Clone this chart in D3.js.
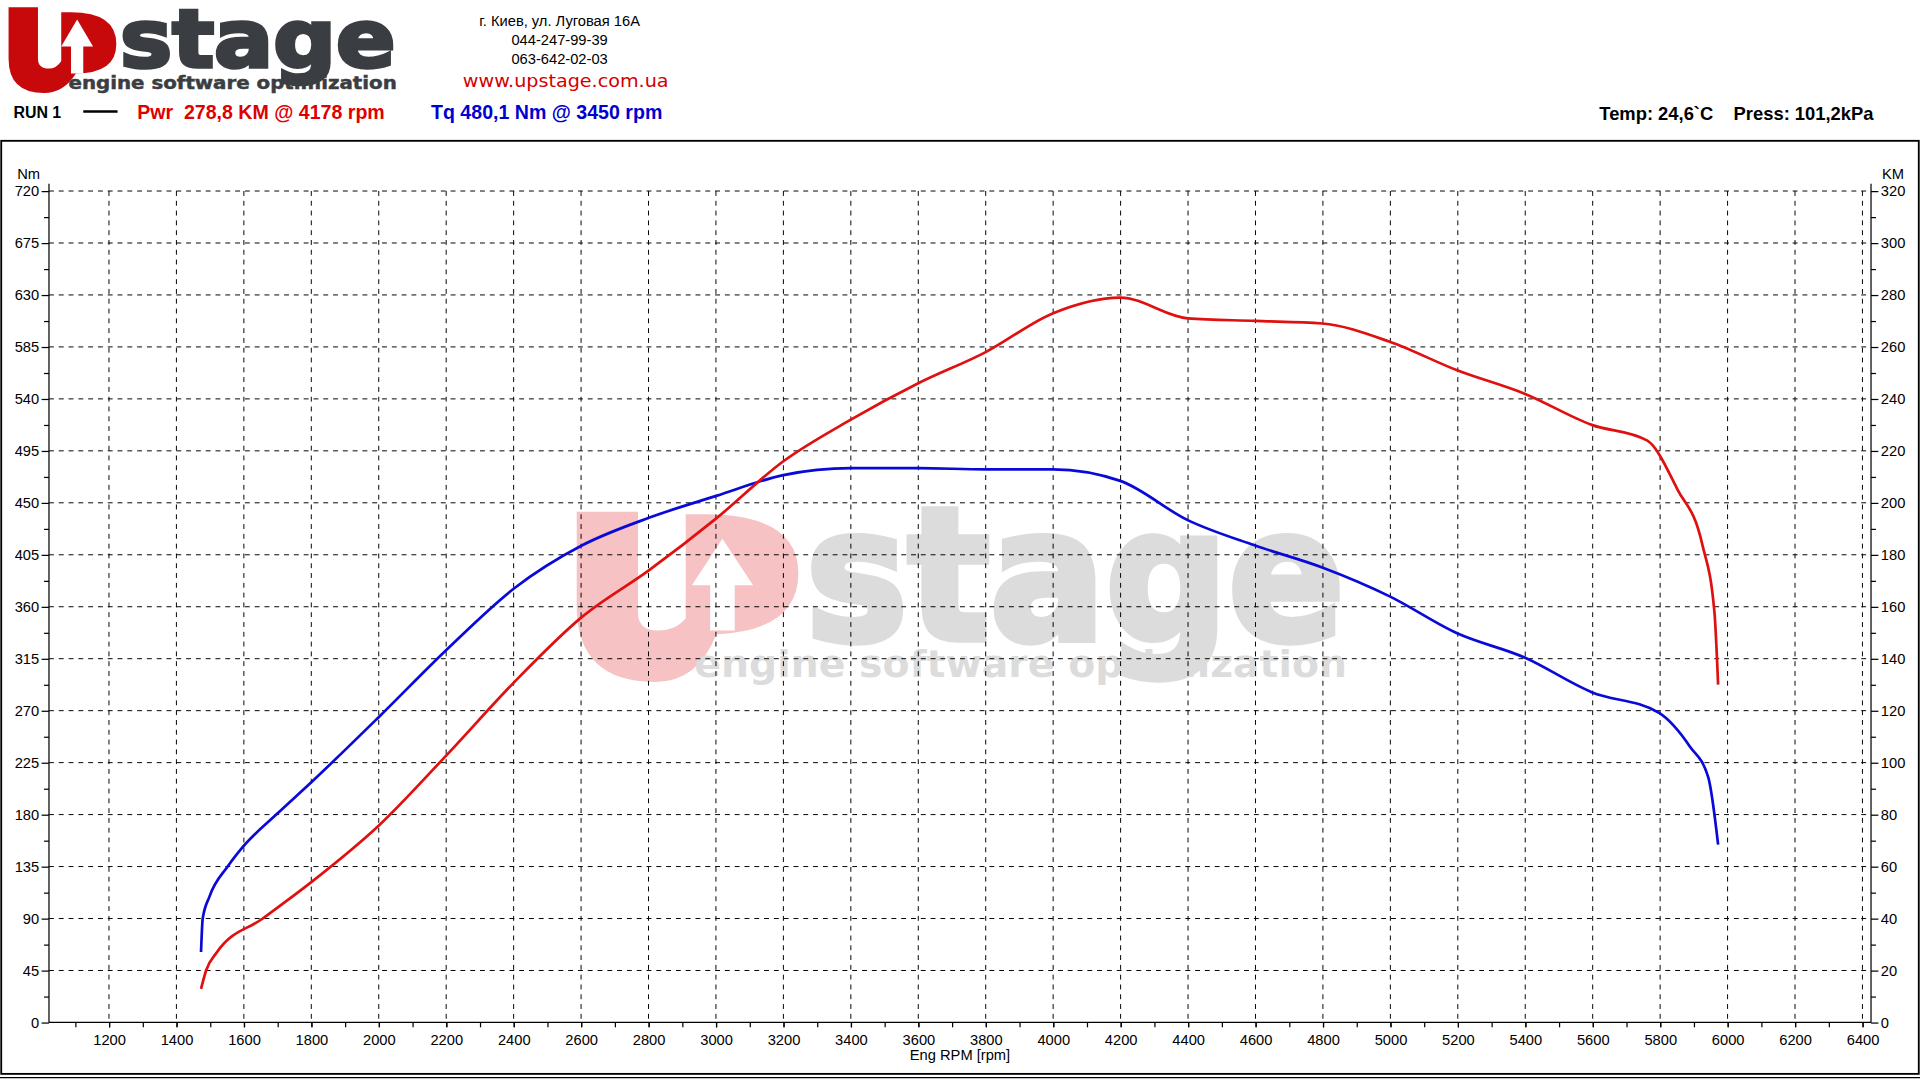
<!DOCTYPE html>
<html><head><meta charset="utf-8">
<script src="https://cdn.jsdelivr.net/npm/d3@7"></script>
<style>body{margin:0;background:#fff}svg{display:block;font-family:Arial,"Liberation Sans",sans-serif}</style>
</head><body>
<svg id="chart" width="1920" height="1080" viewBox="0 0 1568 882"></svg>
<script>
// data
const torqueRpm = [1473,1478,1498,1552,1597,1696,1800,2002,2202,2402,2602,2801,3001,3200,3400,3600,3800,4000,4199,4399,4599,4798,4998,5198,5398,5597,5797,5888,5943,5972];
const torqueNm  = [61,90,109,135,152,180,208,265,323,376,413,437,456,474,480,480,479,479,469,435,413,394,369,337,316,286,268,239,212,154];
const powerRpm = [1473,1488,1520,1656,1800,2002,2202,2402,2602,2801,3001,3200,3400,3600,3800,4000,4199,4399,4599,4798,4998,5198,5398,5597,5761,5852,5925,5961,5972];
const powerKM  = [12.9,20,27,40,54,76,103,131,156,174,194,216,232,246,258,273,279,271,270,269,262,251,242,230,224,205,184,158,130];
const rpmTicks = d3.range(1200, 6401, 200);
const nmTicks = d3.range(0, 721, 45);
const kmTicks = d3.range(0, 321, 20);

const svg = d3.select('#chart');
const pLeft = 40, pRight = 1528, pTop = 156, pBottom = 835;

const x = d3.scaleLinear().domain([1200, 6400]).range([89, 1521]);
const yNm = d3.scaleLinear().domain([0, 720]).range([pBottom, pTop]);
const yKM = d3.scaleLinear().domain([0, 320]).range([pBottom, pTop]);

// header logo
const logo = svg.append('g');
logo.append('path')
    .attr('d', 'M7,6 H31 V48 Q31,56 40,56 Q46,56 50,50 V10 H58 Q95,10 95,36 Q95,60 62,60 Q52,76 36,76 Q7,76 7,48 Z')
    .attr('fill', '#c8090c');
logo.append('path')
    .attr('d', 'M58,60 V38 H50 L63,16 L76,38 H68 V60 Z').attr('fill', '#fff');
logo.append('text').attr('x', 98).attr('y', 55).attr('font-size', 66).attr('font-weight', 700)
    .attr('fill', '#3a3d42').attr('stroke', '#3a3d42').attr('stroke-width', 3)
    .attr('textLength', 225).attr('lengthAdjust', 'spacingAndGlyphs').attr('font-family', 'DejaVu Sans').text('stage');
logo.append('text').attr('x', 56).attr('y', 73).attr('font-size', 15).attr('font-weight', 700)
    .attr('fill', '#3a3d42').attr('stroke', '#3a3d42').attr('stroke-width', 0.4)
    .attr('textLength', 268).attr('lengthAdjust', 'spacingAndGlyphs').attr('font-family', 'DejaVu Sans').text('engine software optimization');

const contact = ['г. Киев, ул. Луговая 16А', '044-247-99-39', '063-642-02-03'];
svg.append('g').selectAll('text').data(contact).join('text')
    .attr('x', 457).attr('y', (d, i) => 21 + i * 15.5).attr('text-anchor', 'middle')
    .attr('font-size', 12).text(d => d);
svg.append('text').attr('x', 462).attr('y', 71).attr('text-anchor', 'middle').attr('font-size', 14)
    .attr('fill', '#d40000').attr('font-family', 'DejaVu Sans').attr('textLength', 168).attr('lengthAdjust', 'spacingAndGlyphs').text('www.upstage.com.ua');

svg.append('text').attr('x', 11).attr('y', 96).attr('font-size', 13).attr('font-weight', 700).text('RUN 1');
svg.append('line').attr('x1', 68).attr('x2', 96).attr('y1', 91).attr('y2', 91).attr('stroke', '#000').attr('stroke-width', 2);
svg.append('text').attr('x', 112).attr('y', 97).attr('font-size', 16).attr('font-weight', 700).attr('fill', '#e00000').attr('xml:space', 'preserve').text('Pwr  278,8 KM @ 4178 rpm');
svg.append('text').attr('x', 352).attr('y', 97).attr('font-size', 16).attr('font-weight', 700).attr('fill', '#0000d0').text('Tq 480,1 Nm @ 3450 rpm');
svg.append('text').attr('x', 1530).attr('y', 98).attr('text-anchor', 'end').attr('font-size', 15).attr('font-weight', 700).attr('xml:space', 'preserve').text('Temp: 24,6`C    Press: 101,2kPa');

// frame
svg.append('rect').attr('x', 1).attr('y', 115).attr('width', 1566).attr('height', 762).attr('fill', 'none').attr('stroke', '#000').attr('stroke-width', 1.5);
svg.append('line').attr('x1', 0).attr('x2', 1568).attr('y1', 880).attr('y2', 880).attr('stroke', '#000');

// watermark
const wm = svg.append('g').attr('opacity', 0.25);
wm.append('path')
    .attr('d', 'M471,418 H521 V500 Q521,515 537,515 Q552,515 560,505 V420 H575 Q652,420 652,468 Q652,515 585,518 Q570,557 535,557 Q471,557 471,495 Z')
    .attr('fill', '#e01015');
wm.append('path').attr('d', 'M580,515 V478 H565 L590,440 L615,478 H600 V515 Z').attr('fill', '#fff');
wm.append('text').attr('x', 658).attr('y', 522).attr('font-size', 150).attr('font-weight', 700)
    .attr('fill', '#777').attr('stroke', '#777').attr('stroke-width', 6)
    .attr('textLength', 440).attr('lengthAdjust', 'spacingAndGlyphs').attr('font-family', 'DejaVu Sans').text('stage');
wm.append('text').attr('x', 567).attr('y', 553).attr('font-size', 30).attr('font-weight', 700)
    .attr('fill', '#777').attr('textLength', 533).attr('lengthAdjust', 'spacingAndGlyphs').attr('font-family', 'DejaVu Sans').text('engine software optimization');

// grid
const grid = svg.append('g').attr('stroke', '#000').attr('stroke-dasharray', '4,4').attr('stroke-width', 0.8);
grid.selectAll('.v').data(rpmTicks).join('line').attr('x1', d => x(d)).attr('x2', d => x(d)).attr('y1', pTop).attr('y2', pBottom);
grid.selectAll('.h').data(nmTicks.slice(1)).join('line').attr('x1', pLeft).attr('x2', pRight).attr('y1', d => yNm(d)).attr('y2', d => yNm(d));

// axes
const font = g => g.selectAll('text').attr('font-size', 12).attr('font-family', 'Arial,"Liberation Sans"');
const xa = svg.append('g').attr('transform', `translate(0,${pBottom})`)
    .call(d3.axisBottom(x).tickValues(rpmTicks).tickSize(4).tickPadding(6).tickFormat(d3.format('d')));
xa.select('.domain').attr('d', `M${pLeft},0H${pRight}`);
font(xa);
svg.append('g').attr('transform', `translate(0,${pBottom})`)
    .call(d3.axisBottom(x).tickValues(d3.range(1100, 6401, 100)).tickSize(4).tickFormat(''))
    .call(g => g.select('.domain').remove());

const ya = svg.append('g').attr('transform', `translate(${pLeft},0)`)
    .call(d3.axisLeft(yNm).tickValues(nmTicks).tickSize(6).tickPadding(2));
ya.select('.domain').attr('d', `M0,${pTop - 6}V${pBottom}`);
font(ya);
svg.append('g').attr('transform', `translate(${pLeft},0)`)
    .call(d3.axisLeft(yNm).tickValues(d3.range(22.5, 720, 45)).tickSize(4).tickFormat(''))
    .call(g => g.select('.domain').remove());

const yr = svg.append('g').attr('transform', `translate(${pRight},0)`)
    .call(d3.axisRight(yKM).tickValues(kmTicks).tickSize(6).tickPadding(2));
yr.select('.domain').attr('d', `M0,${pTop - 6}V${pBottom}`);
font(yr);
svg.append('g').attr('transform', `translate(${pRight},0)`)
    .call(d3.axisRight(yKM).tickValues(d3.range(10, 320, 20)).tickSize(4).tickFormat(''))
    .call(g => g.select('.domain').remove());

svg.append('text').attr('x', 14).attr('y', 146).attr('font-size', 12).text('Nm');
svg.append('text').attr('x', 1537).attr('y', 146).attr('font-size', 12).text('KM');
svg.append('text').attr('x', 784).attr('y', 866).attr('text-anchor', 'middle').attr('font-size', 12).text('Eng RPM [rpm]');

// curves
const lineT = d3.line().x((d, i) => x(torqueRpm[i])).y(d => yNm(d)).curve(d3.curveMonotoneX);
const lineP = d3.line().x((d, i) => x(powerRpm[i])).y(d => yKM(d)).curve(d3.curveMonotoneX);
svg.append('path').attr('d', lineT(torqueNm)).attr('fill', 'none').attr('stroke', '#0a0ad8').attr('stroke-width', 2.2);
svg.append('path').attr('d', lineP(powerKM)).attr('fill', 'none').attr('stroke', '#e01010').attr('stroke-width', 2.2);
</script>
</body></html>
